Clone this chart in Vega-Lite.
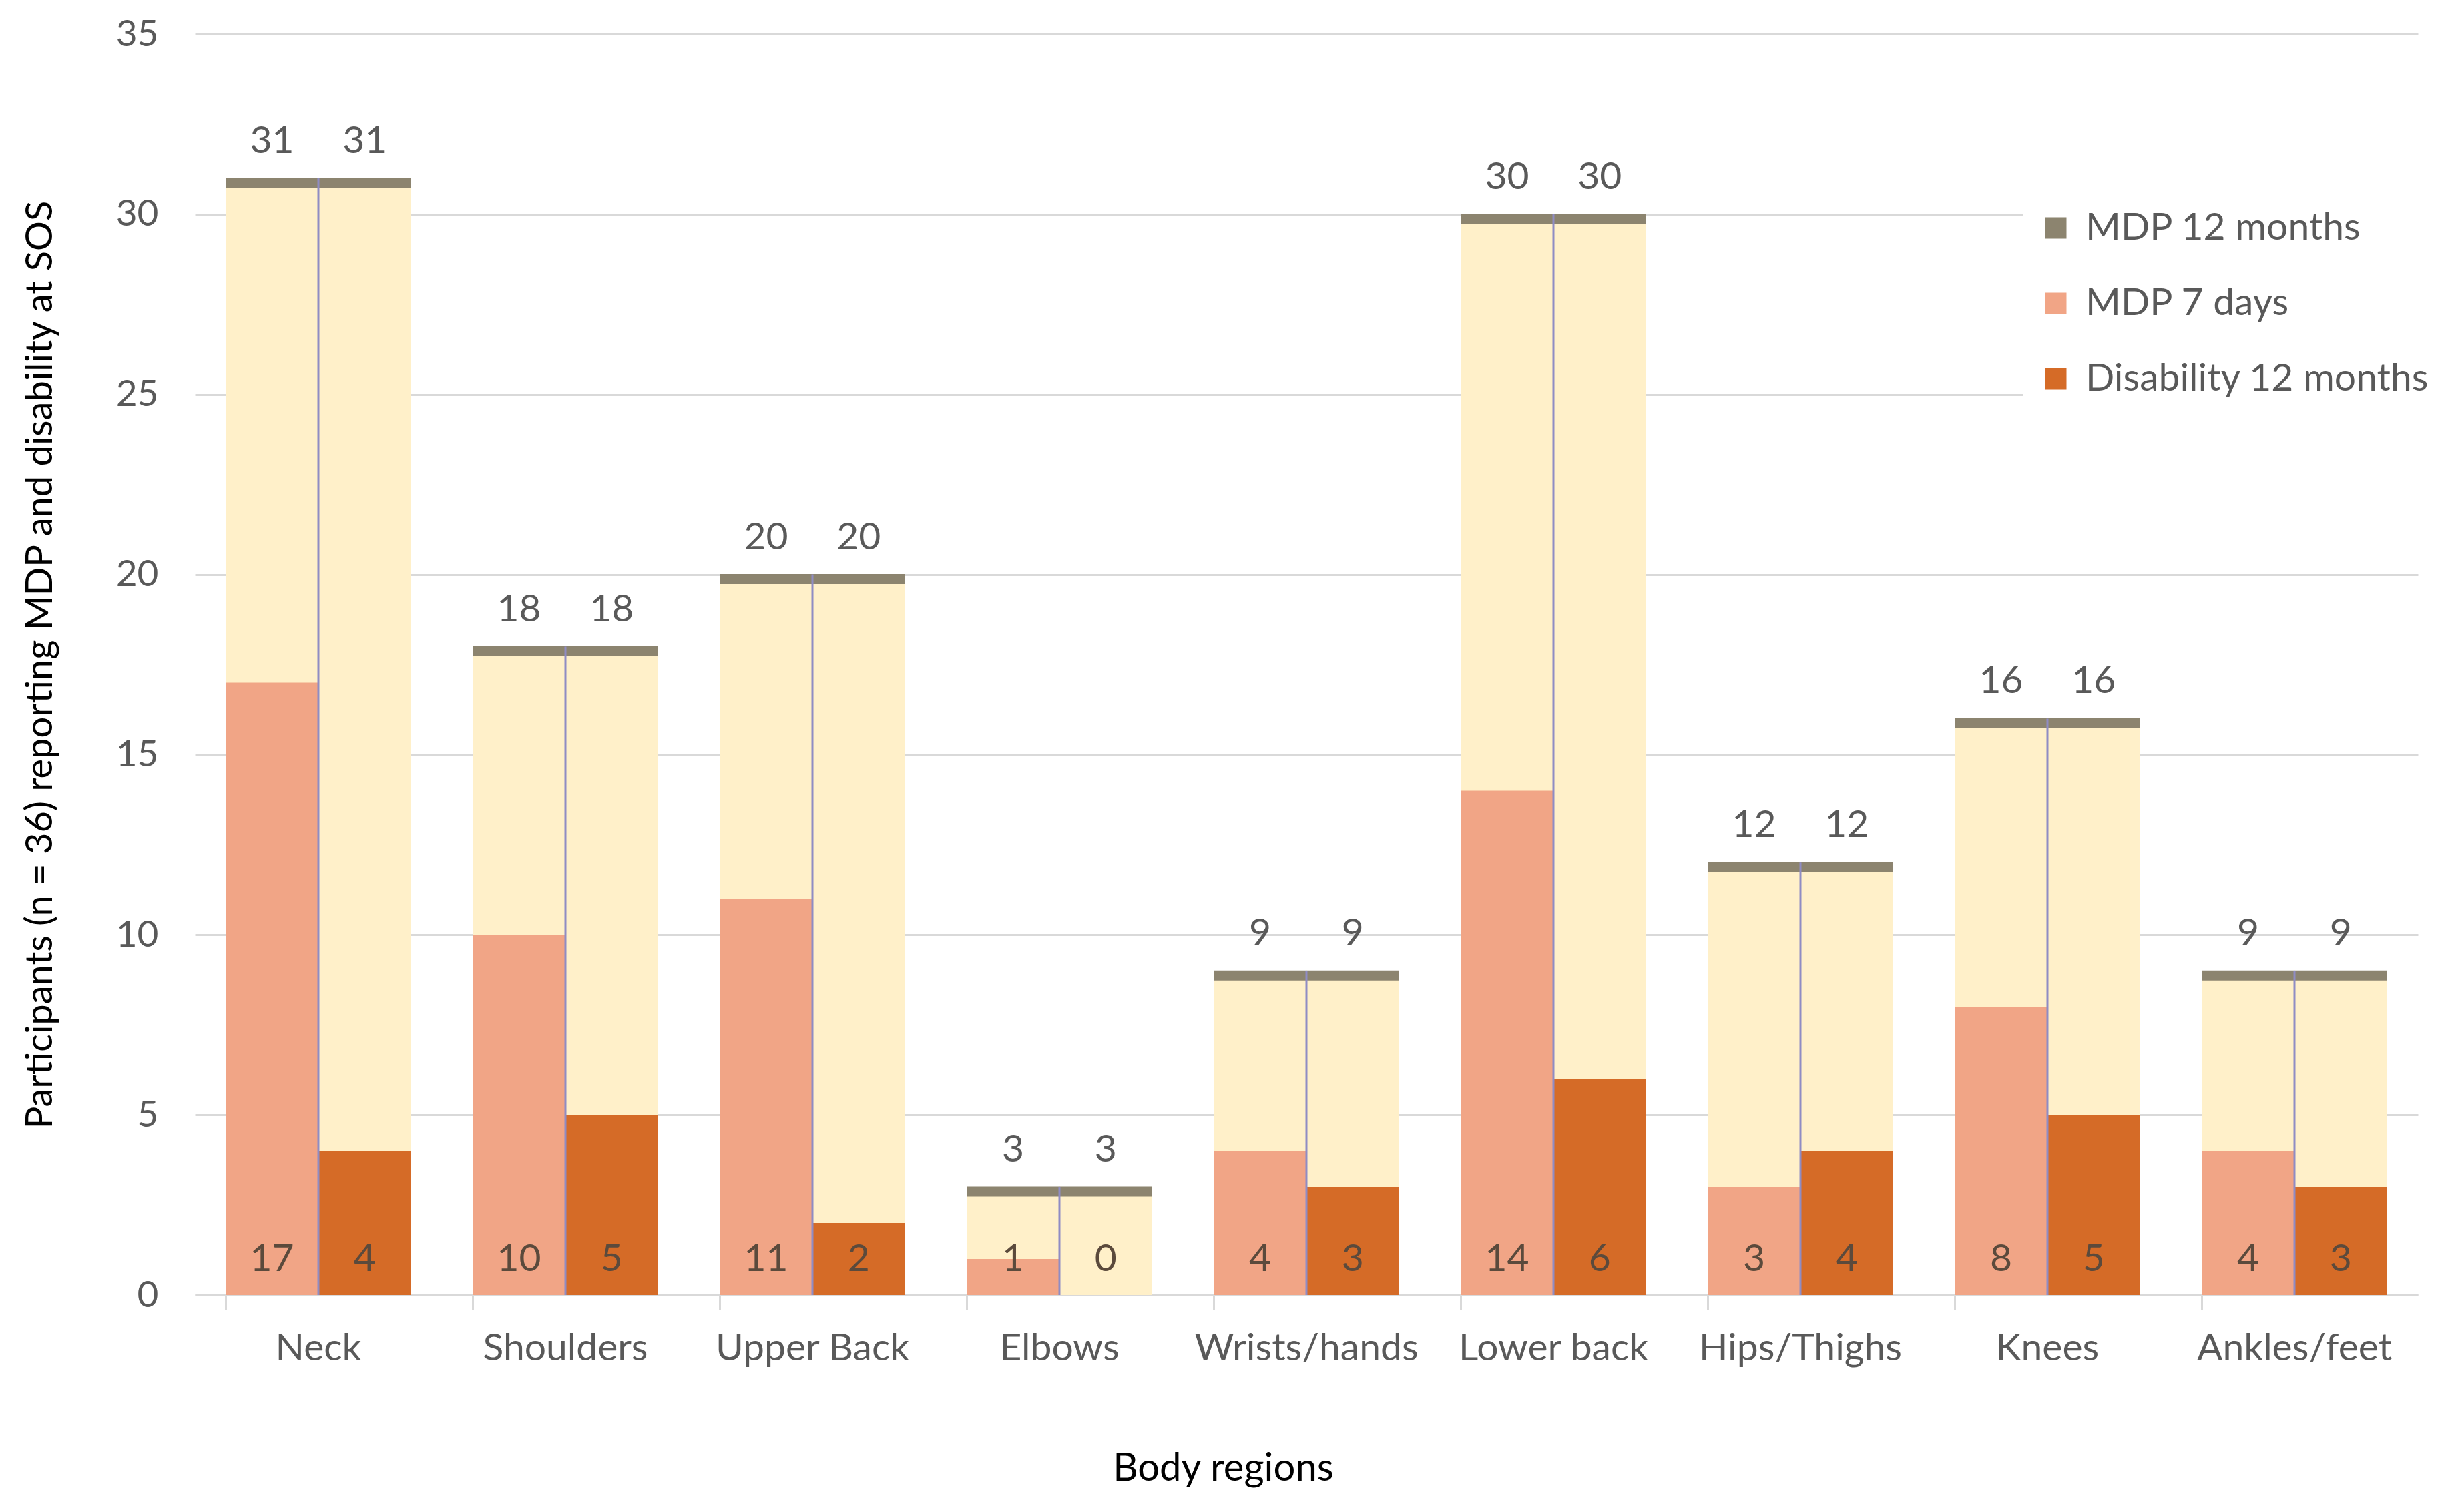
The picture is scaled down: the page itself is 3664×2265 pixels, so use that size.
{
  "$schema": "https://vega.github.io/schema/vega-lite/v6.json",
  "width": 3330,
  "height": 1889,
  "autosize": {"type": "none"},
  "padding": {"left": 292, "top": 51, "right": 42, "bottom": 325},
  "background": "white",
  "config": {"font": "Lato", "view": {"stroke": null}},
  "data": {
    "values": [
      {"region": "Neck", "side": "a", "series": "MDP 12 months", "value": 31},
      {"region": "Neck", "side": "b", "series": "MDP 12 months", "value": 31},
      {"region": "Shoulders", "side": "a", "series": "MDP 12 months", "value": 18},
      {"region": "Shoulders", "side": "b", "series": "MDP 12 months", "value": 18},
      {"region": "Upper Back", "side": "a", "series": "MDP 12 months", "value": 20},
      {"region": "Upper Back", "side": "b", "series": "MDP 12 months", "value": 20},
      {"region": "Elbows", "side": "a", "series": "MDP 12 months", "value": 3},
      {"region": "Elbows", "side": "b", "series": "MDP 12 months", "value": 3},
      {"region": "Wrists/hands", "side": "a", "series": "MDP 12 months", "value": 9},
      {"region": "Wrists/hands", "side": "b", "series": "MDP 12 months", "value": 9},
      {"region": "Lower back", "side": "a", "series": "MDP 12 months", "value": 30},
      {"region": "Lower back", "side": "b", "series": "MDP 12 months", "value": 30},
      {"region": "Hips/Thighs", "side": "a", "series": "MDP 12 months", "value": 12},
      {"region": "Hips/Thighs", "side": "b", "series": "MDP 12 months", "value": 12},
      {"region": "Knees", "side": "a", "series": "MDP 12 months", "value": 16},
      {"region": "Knees", "side": "b", "series": "MDP 12 months", "value": 16},
      {"region": "Ankles/feet", "side": "a", "series": "MDP 12 months", "value": 9},
      {"region": "Ankles/feet", "side": "b", "series": "MDP 12 months", "value": 9},
      {"region": "Neck", "side": "a", "series": "MDP 7 days", "value": 17},
      {"region": "Neck", "side": "b", "series": "Disability 12 months", "value": 4},
      {"region": "Shoulders", "side": "a", "series": "MDP 7 days", "value": 10},
      {"region": "Shoulders", "side": "b", "series": "Disability 12 months", "value": 5},
      {"region": "Upper Back", "side": "a", "series": "MDP 7 days", "value": 11},
      {"region": "Upper Back", "side": "b", "series": "Disability 12 months", "value": 2},
      {"region": "Elbows", "side": "a", "series": "MDP 7 days", "value": 1},
      {"region": "Elbows", "side": "b", "series": "Disability 12 months", "value": 0},
      {"region": "Wrists/hands", "side": "a", "series": "MDP 7 days", "value": 4},
      {"region": "Wrists/hands", "side": "b", "series": "Disability 12 months", "value": 3},
      {"region": "Lower back", "side": "a", "series": "MDP 7 days", "value": 14},
      {"region": "Lower back", "side": "b", "series": "Disability 12 months", "value": 6},
      {"region": "Hips/Thighs", "side": "a", "series": "MDP 7 days", "value": 3},
      {"region": "Hips/Thighs", "side": "b", "series": "Disability 12 months", "value": 4},
      {"region": "Knees", "side": "a", "series": "MDP 7 days", "value": 8},
      {"region": "Knees", "side": "b", "series": "Disability 12 months", "value": 5},
      {"region": "Ankles/feet", "side": "a", "series": "MDP 7 days", "value": 4},
      {"region": "Ankles/feet", "side": "b", "series": "Disability 12 months", "value": 3}
    ]
  },
  "encoding": {
    "x": {
      "field": "region",
      "type": "nominal",
      "sort": ["Neck", "Shoulders", "Upper Back", "Elbows", "Wrists/hands", "Lower back", "Hips/Thighs", "Knees", "Ankles/feet"],
      "scale": {"paddingInner": 0.25, "paddingOuter": 0.125},
      "axis": {
        "title": "Body regions",
        "titleColor": "#000000",
        "titleFontSize": 58,
        "titleFontWeight": "normal",
        "titleX": 1540,
        "titleY": 277,
        "titleAlign": "center",
        "titleBaseline": "alphabetic",
        "labelAngle": 0,
        "labelColor": "#595959",
        "labelFontSize": 57,
        "labelPadding": 30,
        "labelLimit": 0,
        "bandPosition": 0,
        "ticks": true,
        "tickSize": 22,
        "tickColor": "#d9d9d9",
        "tickWidth": 3,
        "domain": true,
        "domainColor": "#d9d9d9",
        "domainWidth": 3,
        "grid": false
      }
    }
  },
  "layer": [
    {
      "transform": [{"filter": "datum.series === 'MDP 12 months'"}],
      "mark": {"type": "bar", "color": "#fff0c9"},
      "encoding": {
        "xOffset": {"field": "side", "type": "nominal", "scale": {"paddingInner": 0, "paddingOuter": 0}},
        "y": {
          "field": "value",
          "type": "quantitative",
          "stack": null,
          "scale": {"domain": [0, 35], "nice": false},
          "axis": {
            "title": "Participants (n = 36) reporting MDP and disability at SOS",
            "titleColor": "#000000",
            "titleFontSize": 56,
            "titleFontWeight": "normal",
            "titlePadding": 84,
            "values": [0, 5, 10, 15, 20, 25, 30, 35],
            "labelColor": "#595959",
            "labelFontSize": 55,
            "labelPadding": 55,
            "ticks": false,
            "domain": false,
            "grid": true,
            "gridColor": "#d9d9d9",
            "gridWidth": 3
          }
        }
      }
    },
    {
      "transform": [{"filter": "datum.series !== 'MDP 12 months'"}],
      "mark": {"type": "bar"},
      "encoding": {
        "xOffset": {"field": "side", "type": "nominal"},
        "y": {"field": "value", "type": "quantitative", "stack": null},
        "color": {
          "field": "series",
          "type": "nominal",
          "scale": {
            "domain": ["MDP 12 months", "MDP 7 days", "Disability 12 months"],
            "range": ["#8c846f", "#f1a586", "#d56b27"]
          },
          "legend": {
            "title": null,
            "orient": "none",
            "legendX": 2739,
            "legendY": 242,
            "padding": 20,
            "fillColor": "white",
            "symbolType": "square",
            "symbolSize": 1024,
            "symbolStrokeWidth": 0,
            "symbolOpacity": 1,
            "labelFontSize": 57,
            "labelColor": "#595959",
            "labelOffset": 16,
            "labelLimit": 0,
            "rowPadding": 55
          }
        }
      }
    },
    {
      "transform": [{"filter": "datum.series === 'MDP 12 months'"}],
      "mark": {
        "type": "tick",
        "orient": "horizontal",
        "thickness": 15,
        "size": 139,
        "yOffset": 7,
        "opacity": 1
      },
      "encoding": {
        "xOffset": {"field": "side", "type": "nominal"},
        "y": {"field": "value", "type": "quantitative"},
        "color": {"field": "series", "type": "nominal"}
      }
    },
    {
      "transform": [{"filter": "datum.series === 'MDP 12 months' && datum.side === 'a'"}],
      "mark": {"type": "rule", "color": "#8f8cc4", "strokeWidth": 3},
      "encoding": {
        "y": {"field": "value", "type": "quantitative"},
        "y2": {"datum": 0}
      }
    },
    {
      "transform": [{"filter": "datum.series === 'MDP 12 months'"}],
      "mark": {"type": "text", "baseline": "alphabetic", "dy": -38, "fontSize": 57, "color": "#595959"},
      "encoding": {
        "xOffset": {"field": "side", "type": "nominal"},
        "y": {"field": "value", "type": "quantitative"},
        "text": {"field": "value", "type": "quantitative"}
      }
    },
    {
      "transform": [{"filter": "datum.series !== 'MDP 12 months'"}],
      "mark": {"type": "text", "baseline": "alphabetic", "dy": -36, "fontSize": 57, "color": "#5b4a3c"},
      "encoding": {
        "xOffset": {"field": "side", "type": "nominal"},
        "y": {"datum": 0, "type": "quantitative"},
        "text": {"field": "value", "type": "quantitative"}
      }
    }
  ]
}
